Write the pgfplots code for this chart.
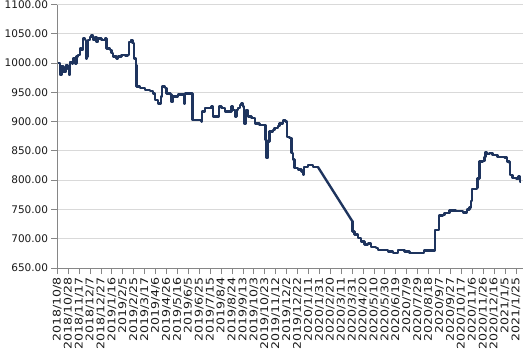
\documentclass[border=0pt]{standalone}
\usepackage{fontspec}
\setmainfont{DejaVu Sans}
\newfontfamily\xlabfont{DejaVu Sans}[FakeStretch=1.2]
\usepackage{pgfplots}
\pgfplotsset{compat=1.18}
\definecolor{linec}{RGB}{30,52,94}
\definecolor{gridc}{RGB}{217,217,217}
\definecolor{axc}{RGB}{134,134,134}
\definecolor{txtc}{RGB}{25,25,25}
\begin{document}
\begin{tikzpicture}
\begin{axis}[
 scale only axis, width=465.7bp, height=263.5bp,
 xmin=0, xmax=853, ymin=650, ymax=1100,
 axis x line*=bottom, axis y line*=left,
 axis line style={axc, line width=0.8bp},
 ytick={650,700,...,1100},
 ymajorgrids, grid style={gridc, line width=0.8bp},
 xtick={0,20,...,840},
 xticklabels={2018/10/8,2018/10/28,2018/11/17,2018/12/7,2018/12/27,2019/1/16,2019/2/5,2019/2/25,2019/3/17,2019/4/6,2019/4/26,2019/5/16,2019/6/5,2019/6/25,2019/7/15,2019/8/4,2019/8/24,2019/9/13,2019/10/3,2019/10/23,2019/11/12,2019/12/2,2019/12/22,2020/1/11,2020/1/31,2020/2/20,2020/3/11,2020/3/31,2020/4/20,2020/5/10,2020/5/30,2020/6/19,2020/7/9,2020/7/29,2020/8/18,2020/9/7,2020/9/27,2020/10/17,2020/11/6,2020/11/26,2020/12/16,2021/1/5,2021/1/25},
 xticklabel style={rotate=90, anchor=east, font=\xlabfont\fontsize{10.5bp}{12bp}\selectfont, text=txtc, inner sep=3bp},
 yticklabel style={font=\fontsize{10.5bp}{12bp}\selectfont, text=txtc, inner sep=3bp,
   /pgf/number format/.cd, fixed, fixed zerofill, precision=2, 1000 sep={}, assume math mode=true},
 tick align=outside, major tick length=6bp, tick style={axc, line width=0.8bp},
 clip=false,
]
\addplot[const plot, linec, line width=2.4bp, line join=round] coordinates {
(1,1000)(4.9,980)(8,994)(11,985)(15.4,997)(19,991)(21.4,980)(23.2,1002)(27.4,999)(29.3,1008)(32.4,999)(35.5,1011)(38.4,1014)(41.5,1025)(44.6,1022)(47.6,1042)(50.7,1039)(52.5,1008)(54.9,1011)(56.7,1039)(59.8,1045)(62.9,1048)(65.8,1039)(69,1045)(72,1036)(75,1042)(81.2,1039)(87.2,1042)(90.4,1025)(96.4,1022)(99.5,1017)(102.4,1011)(108.6,1008)(111.6,1011)(117.8,1014)(123.8,1013)(129.9,1014)(131.1,1036)(134.8,1039)(137.9,1034)(140.3,1008)(143.9,997)(145.2,960)(151.3,957)(160.4,954)(169.6,952)(175.6,948)(178.7,937)(184.7,931)(189.5,943)(192,960)(197,957)(200,948)(207.4,946)(209.2,934)(212.2,943)(221.3,946)(231.7,931)(233.6,948)(247.6,903)(264.1,900)(265.2,917)(270.1,923)(282.4,926)(285.3,909)(296.3,926)(300.7,923)(306.7,917)(319,926)(321.9,920)(325,909)(328.1,920)(331,923)(334.2,928)(337.3,931)(340.2,926)(342,897)(345.1,920)(349.3,909)(355.6,906)(361.6,897)(370.7,894)(381.7,869)(383,838)(385.9,866)(389,883)(395,886)(398.1,889)(404.2,892)(407.3,897)(413.4,902)(417.8,900)(420.7,874)(425.6,872)(428.8,846)(431.6,835)(434.7,821)(440.8,818)(447,815)(450,810)(451.9,823)(459.2,826)(468.2,823)(477,823)
};
\addplot[sharp plot, linec, line width=2.4bp, line join=round] coordinates {(477,823)(540.3,730)};
\addplot[const plot, linec, line width=2.4bp, line join=round] coordinates {
(540.3,730)(540.5,712)(544.5,707)(550.5,701)(556.7,695)(562.8,690)(568.8,692)(575,686)(584.2,684)(587.1,681)(605.4,678)(614.5,676)(623.7,681)(636,678)(645,676)(671.2,680)(692.1,715)(699,740)(706,741)(709.1,744)(718.2,748)(730.5,747)(742.6,745)(749.9,750)(754.8,753)(757.9,764)(759.7,785)(768.2,787)(770,803)(773.2,832)(779.2,833)(782.2,840)(784.1,848)(786.5,845)(791.4,846)(797.4,843)(806.6,840)(818.9,839)(823.8,832)(828,829)(829.3,809)(834,804)(840.2,803)(845,806)(847.6,797)(848,797)
};
\end{axis}
\pgfresetboundingbox
\path (-57.3bp,-86bp) rectangle (472.7bp,268bp);
\end{tikzpicture}
\end{document}
